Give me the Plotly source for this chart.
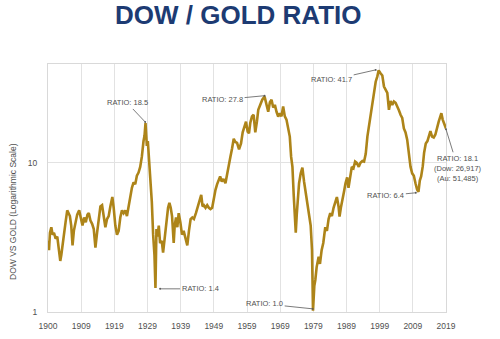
import math
import plotly.graph_objects as go

# Dow / Gold ratio (year, ratio)
years = [
    1900.0, 1900.3, 1900.6, 1901.0, 1901.4, 1901.8, 1902.3, 1902.8, 1903.3, 1903.7,
    1904.0, 1904.4, 1904.8, 1905.3, 1905.8, 1906.2, 1906.6, 1907.0, 1907.4, 1907.8,
    1908.3, 1908.8, 1909.4, 1909.9, 1910.4, 1910.9, 1911.4, 1911.9, 1912.3, 1912.8,
    1913.3, 1913.8, 1914.3, 1914.8, 1915.3, 1915.8, 1916.3, 1916.8, 1917.3, 1917.8,
    1918.3, 1918.8, 1919.4, 1919.8, 1920.3, 1920.8, 1921.3, 1921.8, 1922.3, 1922.8,
    1923.3, 1923.8, 1924.3, 1924.8, 1925.3, 1925.8, 1926.3, 1926.8, 1927.3, 1927.8,
    1928.3, 1928.8, 1929.1, 1929.4, 1929.8, 1930.1, 1930.5, 1930.9, 1931.3, 1931.7,
    1932.1, 1932.4, 1932.7, 1933.0, 1933.4, 1933.8, 1934.3, 1934.7, 1935.2, 1935.7,
    1936.2, 1936.6, 1937.0, 1937.4, 1937.9, 1938.2, 1938.6, 1939.0, 1939.4, 1939.9,
    1940.4, 1940.9, 1941.4, 1942.0, 1942.5, 1943.0, 1943.5, 1944.0, 1944.6, 1945.2,
    1945.7, 1946.2, 1946.6, 1947.0, 1947.5, 1948.0, 1948.5, 1949.0, 1949.5, 1950.0,
    1950.5, 1951.0, 1951.5, 1951.9, 1952.4, 1952.9, 1953.5, 1954.0, 1954.5, 1955.0,
    1955.5, 1956.0, 1956.5, 1957.0, 1957.6, 1958.2, 1958.7, 1959.3, 1959.7, 1960.2,
    1960.6, 1961.0, 1961.5, 1962.0, 1962.5, 1963.0, 1963.4, 1964.0, 1964.6, 1965.3,
    1965.7, 1966.0, 1966.4, 1966.9, 1967.4, 1967.9, 1968.4, 1968.9, 1969.4, 1969.9,
    1970.4, 1970.9, 1971.4, 1971.9, 1972.4, 1972.9, 1973.3, 1973.7, 1974.1, 1974.4,
    1974.7, 1975.0, 1975.4, 1975.7, 1976.2, 1976.7, 1977.2, 1977.7, 1978.2, 1978.7,
    1979.2, 1979.6, 1979.9, 1980.3, 1980.6, 1981.0, 1981.6, 1982.0, 1982.5, 1983.0,
    1983.6, 1984.1, 1984.6, 1985.1, 1985.6, 1986.1, 1986.6, 1987.1, 1987.6, 1987.9,
    1988.3, 1988.8, 1989.3, 1989.7, 1990.2, 1990.6, 1991.1, 1991.6, 1992.1, 1992.6,
    1993.1, 1993.7, 1994.2, 1994.8, 1995.3, 1995.8, 1996.3, 1996.8, 1997.3, 1997.8,
    1998.3, 1998.8, 1999.3, 1999.7, 2000.2, 2000.8, 2001.3, 2001.8, 2002.3, 2002.8,
    2003.3, 2003.8, 2004.3, 2004.8, 2005.3, 2005.8, 2006.3, 2006.8, 2007.3, 2007.8,
    2008.3, 2008.8, 2009.3, 2009.8, 2010.3, 2010.8, 2011.3, 2011.7, 2012.1, 2012.5,
    2013.0, 2013.4, 2013.9, 2014.4, 2014.8, 2015.3, 2015.8, 2016.3, 2016.8, 2017.3,
    2017.8, 2018.3, 2018.6, 2019.0, 2019.4, 2020.0,
]
ratio = [
    3.0, 2.6, 3.4, 3.7, 3.3, 3.4, 3.1, 3.2, 2.6, 2.2,
    2.4, 2.9, 3.4, 4.0, 4.8, 4.6, 4.4, 3.8, 2.8, 3.5,
    3.9, 4.5, 4.8, 4.2, 3.8, 4.3, 4.0, 4.5, 4.6, 4.1,
    3.9, 3.6, 2.7, 3.4, 4.3, 5.1, 5.2, 4.4, 3.7, 4.2,
    4.4, 5.1, 5.9, 5.0, 3.8, 3.3, 3.5, 4.3, 4.8, 4.6,
    4.8, 4.4, 5.1, 5.6, 6.8, 7.4, 7.2, 8.2, 8.6, 9.4,
    11.0, 14.0, 15.2, 18.5, 13.0, 14.0, 10.5, 7.0, 5.5, 3.3,
    2.4, 1.45, 3.6, 3.2, 3.8, 2.9, 3.0, 2.5, 3.2, 4.1,
    5.0, 5.4, 5.0, 4.4, 2.9, 3.8, 4.3, 3.7, 4.6, 4.0,
    3.3, 3.5, 3.1, 2.8, 3.5, 4.2, 4.3, 4.2, 4.6, 5.2,
    5.6, 6.1, 5.1, 5.2, 5.0, 5.2, 5.0, 4.9, 5.0, 5.8,
    6.6, 7.2, 7.6, 8.1, 7.5, 7.8, 7.3, 8.5, 9.8, 11.0,
    12.5, 14.5, 13.8, 13.6, 12.3, 13.5, 16.0, 18.2, 18.9, 16.2,
    15.8, 18.6, 20.5, 21.0, 16.0, 19.0, 22.7, 24.5, 26.5, 27.8,
    25.0, 24.5, 22.0, 25.5, 26.5, 23.5, 24.5, 22.0, 20.4, 21.5,
    20.5, 23.9, 20.5, 19.5, 17.5, 15.0, 11.0, 9.4, 6.0, 4.0,
    3.4, 4.5, 6.0, 7.3, 8.5, 9.3, 7.5, 6.3, 5.5, 4.6,
    3.8, 2.6, 1.02, 1.5, 1.64, 2.0, 2.35, 2.1, 2.6, 2.9,
    3.7, 3.5, 4.2, 4.6, 4.4, 5.0, 5.4, 5.9, 5.1, 4.36,
    5.0, 5.6, 6.5, 7.3, 8.0, 6.8, 7.8, 9.4, 9.2, 10.2,
    10.0, 9.4, 10.0, 10.3, 10.2, 11.5, 15.0, 18.0, 21.6, 25.0,
    29.5, 35.0, 38.0, 41.7, 40.0, 38.5, 32.5, 30.5, 29.5, 22.7,
    26.0, 24.5, 25.8, 25.3, 23.5, 22.5, 21.0, 20.0, 17.0, 16.0,
    14.3, 11.5, 9.4, 8.5, 8.2, 7.3, 6.6, 6.4, 7.6, 8.1,
    9.5, 11.7, 13.5, 14.0, 15.0, 16.3, 15.0, 14.8, 15.5, 17.5,
    18.9, 20.5, 21.5, 19.5, 18.5, 17.0,
]

tick_vals = [1900, 1910, 1920, 1930, 1940, 1950, 1960, 1970, 1980, 1990, 2000, 2010, 2020]
tick_text = ["1900", "1909", "1919", "1929", "1939", "1949", "1959", "1969",
             "1979", "1989", "1999", "2009", "2019"]

# callouts: (year, ratio, label, text offset x px, text offset y px)
callouts = [
    (1929.3, 18.8, "RATIO: 18.5", -18, -19),
    (1933.8, 1.43, "RATIO: 1.4", 40, 0),
    (1965.3, 28.2, "RATIO: 27.8", -42, 4),
    (1979.8, 1.05, "RATIO: 1.0", -48, -5),
    (1998.8, 42.0, "RATIO: 41.7", -44, 10),
    (2010.9, 6.3, "RATIO: 6.4", -30, 3),
    (2020.0, 16.8, "RATIO: 18.1<br>(Dow: 26,917)<br>(Au: 51,485)", 12, 39),
]

W, H = 500, 339
L, R, T, B = 48, 54, 64, 27
pw, ph = W - L - R, H - T - B

fig = go.Figure()
fig.add_trace(go.Scatter(
    x=years, y=ratio, mode="lines",
    line=dict(color="#ad8419", width=2.6),
    hoverinfo="skip", showlegend=False,
))

annotations = []
for x, y, txt, ax, ay in callouts:
    annotations.append(dict(
        x=x, y=math.log10(y), xref="x", yref="y", text=txt,
        showarrow=True, ax=ax, ay=ay, arrowhead=6, arrowsize=0.6,
        arrowwidth=0.8, arrowcolor="#595959",
        font=dict(family="Liberation Sans, Arial", size=7.5, color="#505050"),
        align="center",
    ))

# title and y-axis title placed by pixel position
annotations.append(dict(
    text="<b>DOW / GOLD RATIO</b>", x=(238 - L) / pw, y=1 - (15 - T) / ph,
    xref="paper", yref="paper", showarrow=False,
    xanchor="center", yanchor="middle",
    font=dict(family="Liberation Sans, Arial", size=26, color="#1d3b73"),
))
annotations.append(dict(
    text="DOW VS GOLD (Logarithmic Scale)", x=(13 - L) / pw, y=1 - (212 - T) / ph,
    xref="paper", yref="paper", showarrow=False,
    textangle=-90, xanchor="center", yanchor="middle",
    font=dict(family="Liberation Sans, Arial", size=8.5, color="#505050"),
))

fig.update_layout(
    width=W, height=H,
    margin=dict(l=L, r=R, t=T, b=B, autoexpand=False),
    paper_bgcolor="white", plot_bgcolor="white",
    annotations=annotations,
    xaxis=dict(
        range=[1900, 2020], tickvals=tick_vals, ticktext=tick_text,
        showgrid=True, gridcolor="#e2e2e2", gridwidth=1,
        showline=True, linecolor="#d9d9d9", mirror=True,
        ticks="", zeroline=False, ticklabelstandoff=6, automargin=False,
        tickfont=dict(family="Liberation Sans, Arial", size=8.5, color="#505050"),
    ),
    yaxis=dict(
        type="log", range=[0, math.log10(46)],
        tickvals=[1, 10], ticktext=["1", "10"],
        showgrid=True, gridcolor="#e2e2e2", gridwidth=1,
        showline=True, linecolor="#d9d9d9", mirror=True,
        ticks="", zeroline=False, ticklabelstandoff=8, automargin=False,
        tickfont=dict(family="Liberation Sans, Arial", size=8.5, color="#505050"),
    ),
)

fig.write_html("out.html")
